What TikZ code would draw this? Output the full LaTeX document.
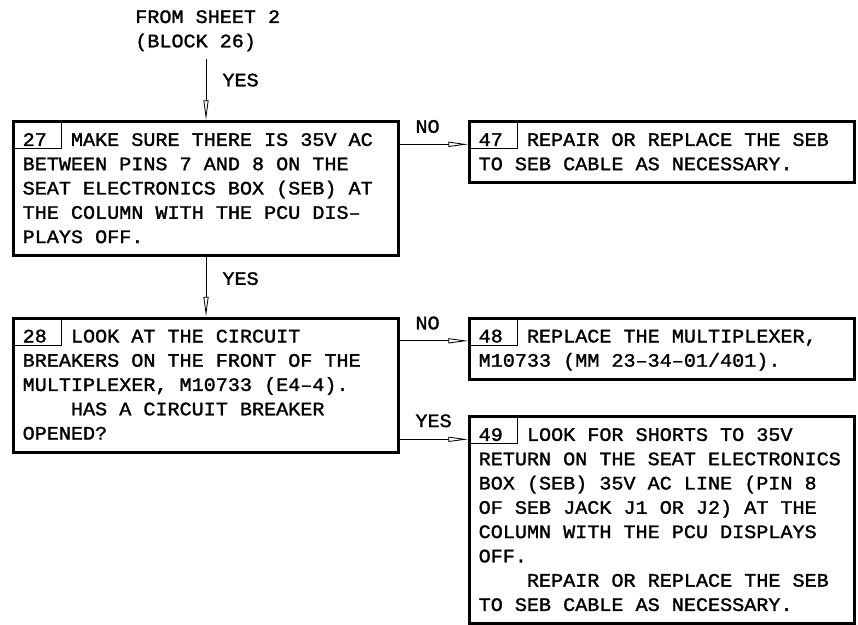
\documentclass[tikz,border=0pt]{standalone}
\usepackage{fontspec}
\usepackage{tikz}
\usetikzlibrary{arrows.meta,positioning}
\newfontfamily\chartmono[FakeStretch=1.06, FakeBold=1.5]{Liberation Mono}
% every space as wide as one character
\newcommand{\monospaces}{\spaceskip=\fontdimen2\font\relax
  \xspaceskip=\fontdimen2\font\relax}
\newcommand{\chartfont}{\chartmono\fontsize{13.5pt}{17.28pt}\selectfont\monospaces}
\tikzset{
  stepbox/.style={draw, line width=2.2pt, anchor=north west, font=\chartfont,
    align=left, text width=260.8pt, inner xsep=6.5pt, inner ysep=0pt,
    execute at begin node={\monospaces\rule{0pt}{17.3pt}},
    execute at end node={\rule[-9pt]{0pt}{9pt}}},
  numbox/.style={draw, line width=0.6pt, anchor=north west, inner sep=0pt,
    minimum width=34.5pt, minimum height=20pt},
  flow/.style={line width=0.6pt, -{Triangle[open, length=14pt, width=3.6pt]}},
  flowlbl/.style={font=\chartfont, inner sep=0pt},
}

\begin{document}
\begin{tikzpicture}[x=0.25mm, y=-0.25mm]
\useasboundingbox (0,0) rectangle (858,624);

\node[flowlbl, align=left, anchor=north west] (from26) at (135,10)
  {FROM SHEET 2\\(BLOCK 26)};

%% left column
\node[stepbox] (blk27) at (12,120) {27\ \ MAKE SURE THERE IS 35V AC\\
  BETWEEN PINS 7 AND 8 ON THE\\
  SEAT ELECTRONICS BOX (SEB) AT\\
  THE COLUMN WITH THE PCU DIS–\\
  PLAYS OFF.};
\node[stepbox] (blk28) at (12,316.5) {28\ \ LOOK AT THE CIRCUIT\\
  BREAKERS ON THE FRONT OF THE\\
  MULTIPLEXER, M10733 (E4–4).\\
  \phantom{0000}HAS A CIRCUIT BREAKER\\
  OPENED?};

%% right column
\node[stepbox] (blk47) at (468,120) {47\ \ REPAIR OR REPLACE THE SEB\\
  TO SEB CABLE AS NECESSARY.};
\node[stepbox] (blk48) at (468,316.5) {48\ \ REPLACE THE MULTIPLEXER,\\
  M10733 (MM 23–34–01/401).};
\node[stepbox] (blk49) at (468,415) {49\ \ LOOK FOR SHORTS TO 35V\\
  RETURN ON THE SEAT ELECTRONICS\\
  BOX (SEB) 35V AC LINE (PIN 8\\
  OF SEB JACK J1 OR J2) AT THE\\
  COLUMN WITH THE PCU DISPLAYS\\
  OFF.\\
  \phantom{0000}REPAIR OR REPLACE THE SEB\\
  TO SEB CABLE AS NECESSARY.};

%% block numbers
\node[numbox] (num27) at (blk27.north west) {};
\node[numbox] (num28) at (blk28.north west) {};
\node[numbox] (num47) at (blk47.north west) {};
\node[numbox] (num48) at (blk48.north west) {};
\node[numbox] (num49) at (blk49.north west) {};

%% connectors
\draw[flow] (from26.south -| blk27.north) ++(0,8)
  -- node[flowlbl, right=11.4pt, pos=0.34] (yes27) {YES} (blk27.north);
\draw[flow] (blk27.south)
  -- node[flowlbl, right=11.4pt, pos=0.36] (yes28) {YES} (blk28.north);
\draw[flow] ([yshift=-17.3pt]blk27.north east)
  -- node[flowlbl, above right=7.8pt and 10.7pt, pos=0] (no47) {NO}
  ([yshift=-17.3pt]blk47.north west);
\draw[flow] ([yshift=-17.3pt]blk28.north east)
  -- node[flowlbl, above right=7.8pt and 10.7pt, pos=0] (no48) {NO}
  ([yshift=-17.3pt]blk48.north west);
\coordinate (in49) at ([yshift=-17.3pt]blk49.north west);
\draw[flow] (blk28.east |- in49)
  -- node[flowlbl, above right=8.3pt and 10.7pt, pos=0] (yes49) {YES} (in49);
\end{tikzpicture}
\end{document}
